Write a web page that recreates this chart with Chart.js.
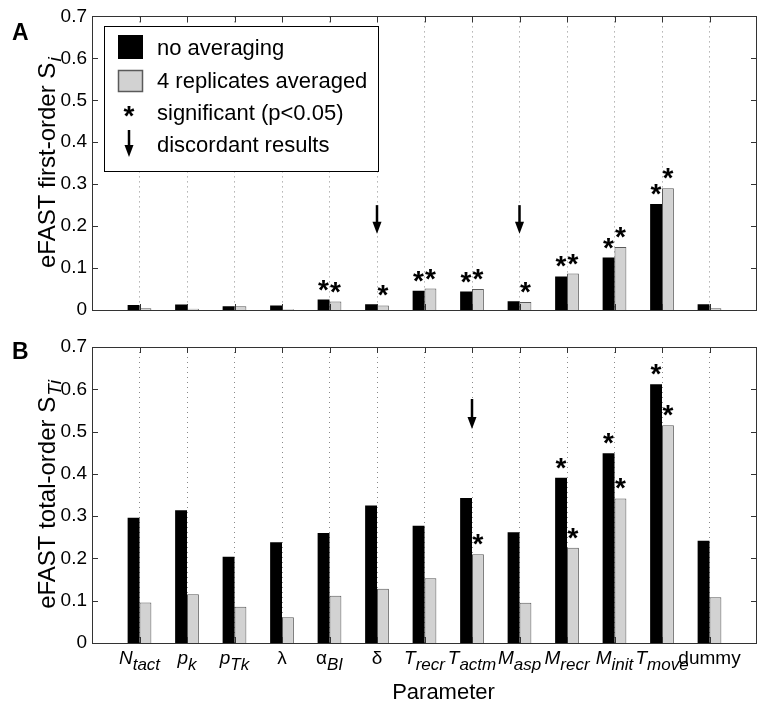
<!DOCTYPE html>
<html>
<head>
<meta charset="utf-8">
<script src="https://cdn.jsdelivr.net/npm/chart.js@4.4.1/dist/chart.umd.min.js"></script>
<style>
  html, body { margin: 0; padding: 0; background: #fff; }
  #wrap { position: relative; width: 759px; height: 706px; }
  .panel { position: absolute; left: 0; width: 759px; }
  #panelA { top: 0; height: 330px; }
  #panelB { top: 330px; height: 376px; }
</style>
</head>
<body>
<div id="wrap">
  <div class="panel" id="panelA"><canvas id="chartA" width="759" height="330"></canvas></div>
  <div class="panel" id="panelB"><canvas id="chartB" width="759" height="376"></canvas></div>
</div>
<script>
// parameters (main symbol, subscript, italic?)
const categoryMain = ['N', 'p', 'p', 'λ', 'α', 'δ', 'T', 'T', 'M', 'M', 'M', 'T', 'dummy'];
const categorySub = ['tact', 'k', 'Tk', '', 'BI', '', 'recr', 'actm', 'asp', 'recr', 'init', 'move', ''];
const categoryItalic = [true, true, true, false, false, false, true, true, true, true, true, true, false];

// panel A: first-order Si
const firstNoAvg = [0.012, 0.013, 0.009, 0.011, 0.025, 0.014, 0.046, 0.044, 0.021, 0.080, 0.125, 0.253, 0.014];
const firstAvg = [0.004, 0.003, 0.009, 0.002, 0.020, 0.011, 0.051, 0.050, 0.019, 0.087, 0.150, 0.290, 0.004];
const sigFirstNoAvg = [0, 0, 0, 0, 1, 0, 1, 1, 0, 1, 1, 1, 0];
const sigFirstAvg = [0, 0, 0, 0, 1, 1, 1, 1, 1, 1, 1, 1, 0];
const discordFirst = [5, 8];
const arrowFirst = [0.250, 0.182]; // shaft start, tip

// panel B: total-order STi
const totalNoAvg = [0.296, 0.314, 0.204, 0.238, 0.260, 0.325, 0.277, 0.343, 0.262, 0.391, 0.449, 0.612, 0.242];
const totalAvg = [0.096, 0.115, 0.086, 0.061, 0.112, 0.128, 0.153, 0.210, 0.095, 0.225, 0.342, 0.515, 0.108];
const sigTotalNoAvg = [0, 0, 0, 0, 0, 0, 0, 0, 0, 1, 1, 1, 0];
const sigTotalAvg = [0, 0, 0, 0, 0, 0, 0, 1, 0, 1, 1, 1, 0];
const discordTotal = [7];
const arrowTotal = [0.577, 0.506];

const yMax = 0.7, yStep = 0.1;

const FONT = "'Liberation Sans', Arial, Helvetica, sans-serif";
const GRAY = '#d2d2d2', GRAY_EDGE = '#5a5a5a', FRAME = '#333';
const STAR_FONT = 'bold 28px ' + FONT;
const n = categoryMain.length;

function arrow(ctx, x, y0, y1) {
  ctx.save();
  ctx.strokeStyle = '#000';
  ctx.fillStyle = '#000';
  ctx.lineWidth = 2.5;
  ctx.beginPath();
  ctx.moveTo(x, y0);
  ctx.lineTo(x, y1 - 10);
  ctx.stroke();
  ctx.beginPath();
  ctx.moveTo(x - 4.5, y1 - 12);
  ctx.lineTo(x + 4.5, y1 - 12);
  ctx.lineTo(x, y1);
  ctx.closePath();
  ctx.fill();
  ctx.restore();
}

function decor(cfg) {
  return {
    id: 'decor' + cfg.letter,
    afterDatasetsDraw(chart) {
      const { ctx, chartArea: a } = chart;
      const xs = chart.scales.x, ys = chart.scales.y;

      // frame + inner ticks
      ctx.save();
      ctx.strokeStyle = FRAME;
      ctx.lineWidth = 1;
      ctx.strokeRect(Math.round(a.left) + 0.5, Math.round(a.top) + 0.5, Math.round(a.width) - 1, Math.round(a.height));
      ctx.beginPath();
      for (let i = 1; i <= n; i++) {
        const px = Math.round(xs.getPixelForValue(i)) + 0.5;
        ctx.moveTo(px, a.top); ctx.lineTo(px, a.top + 6);
        ctx.moveTo(px, a.bottom); ctx.lineTo(px, a.bottom - 6);
      }
      ys.ticks.forEach(t => {
        const py = Math.round(ys.getPixelForValue(t.value)) + 0.5;
        ctx.moveTo(a.left, py); ctx.lineTo(a.left + 6, py);
        ctx.moveTo(a.right, py); ctx.lineTo(a.right - 6, py);
      });
      ctx.stroke();
      ctx.restore();

      // significance stars
      ctx.save();
      ctx.fillStyle = '#000';
      ctx.font = STAR_FONT;
      ctx.textAlign = 'center';
      ctx.textBaseline = 'alphabetic';
      [cfg.sigNo, cfg.sigAvg].forEach((sig, d) => {
        chart.getDatasetMeta(d).data.forEach((bar, i) => {
          if (sig[i]) ctx.fillText('*', bar.x, bar.y - 1);
        });
      });
      ctx.restore();

      // discordant arrows
      cfg.discord.forEach(i => {
        arrow(ctx, xs.getPixelForValue(i + 1), ys.getPixelForValue(cfg.arrow[0]), ys.getPixelForValue(cfg.arrow[1]));
      });
    },
    afterDraw(chart) {
      const { ctx, chartArea: a } = chart;
      const xs = chart.scales.x;

      // panel letter
      ctx.save();
      ctx.fillStyle = '#000';
      ctx.font = 'bold 23px ' + FONT;
      ctx.textAlign = 'left';
      ctx.textBaseline = 'alphabetic';
      ctx.fillText(cfg.letter, 12, a.top + cfg.letterDy);
      ctx.restore();

      // y title with subscript (rotated)
      ctx.save();
      ctx.translate(55, (a.top + a.bottom) / 2);
      ctx.rotate(-Math.PI / 2);
      ctx.fillStyle = '#000';
      ctx.textBaseline = 'alphabetic';
      ctx.font = '24px ' + FONT;
      const wMain = ctx.measureText(cfg.yTitle).width;
      ctx.font = 'italic 19px ' + FONT;
      const wSub = ctx.measureText(cfg.ySub).width;
      const x0 = -(wMain + wSub) / 2;
      ctx.font = '24px ' + FONT;
      ctx.fillText(cfg.yTitle, x0, 0);
      ctx.font = 'italic 19px ' + FONT;
      ctx.fillText(cfg.ySub, x0 + wMain + 1, 6);
      ctx.restore();

      if (cfg.legend) {
        const bx = Math.round(a.left) + 12, by = Math.round(a.top) + 10;
        ctx.save();
        ctx.fillStyle = '#fff';
        ctx.fillRect(bx, by, 274, 145);
        ctx.strokeStyle = '#000';
        ctx.lineWidth = 1;
        ctx.strokeRect(bx + 0.5, by + 0.5, 274, 145);
        ctx.fillStyle = '#000';
        ctx.fillRect(bx + 14, by + 9, 25, 24);
        ctx.fillStyle = GRAY;
        ctx.fillRect(bx + 14, by + 44, 25, 22);
        ctx.strokeStyle = GRAY_EDGE;
        ctx.lineWidth = 1.5;
        ctx.strokeRect(bx + 14.5, by + 44.5, 24, 21);
        ctx.fillStyle = '#000';
        ctx.font = STAR_FONT;
        ctx.textAlign = 'center';
        ctx.fillText('*', bx + 25, by + 99);
        arrow(ctx, bx + 25, by + 104, by + 131);
        ctx.font = '22px ' + FONT;
        ctx.textAlign = 'left';
        ctx.fillText(chart.data.datasets[0].label, bx + 53, by + 29);
        ctx.fillText(chart.data.datasets[1].label, bx + 53, by + 62);
        ctx.fillText('significant (p<0.05)', bx + 53, by + 94);
        ctx.fillText('discordant results', bx + 53, by + 126);
        ctx.restore();
      }

      if (cfg.xLabels) {
        ctx.save();
        ctx.fillStyle = '#000';
        ctx.textAlign = 'left';
        ctx.textBaseline = 'alphabetic';
        for (let i = 0; i < n; i++) {
          const main = categoryMain[i], sub = categorySub[i];
          const mFont = (categoryItalic[i] ? 'italic ' : '') + '19px ' + FONT;
          const sFont = 'italic 17px ' + FONT;
          ctx.font = mFont;
          const wm = ctx.measureText(main).width;
          ctx.font = sFont;
          const ws = sub ? ctx.measureText(sub).width : 0;
          const cx = xs.getPixelForValue(i + 1);
          const sx = cx - (wm + ws) / 2;
          ctx.font = mFont;
          ctx.fillText(main, sx, a.bottom + 21);
          if (sub) {
            ctx.font = sFont;
            ctx.fillText(sub, sx + wm, a.bottom + 27);
          }
        }
        ctx.font = '22px ' + FONT;
        ctx.textAlign = 'center';
        ctx.fillText('Parameter', (a.left + a.right) / 2 + 19, a.bottom + 56);
        ctx.restore();
      }
    }
  };
}

function makeChart(id, noAvg, avg, padTop, bottomSpace, cfg) {
  return new Chart(document.getElementById(id), {
    type: 'bar',
    data: {
      datasets: [
        {
          label: 'no averaging',
          data: noAvg.map((v, i) => ({ x: i + 1, y: v })),
          backgroundColor: '#000',
          borderWidth: 0
        },
        {
          label: '4 replicates averaged',
          data: avg.map((v, i) => ({ x: i + 1, y: v })),
          backgroundColor: GRAY,
          borderColor: GRAY_EDGE,
          borderWidth: 1
        }
      ]
    },
    options: {
      responsive: false,
      animation: false,
      devicePixelRatio: 1,
      layout: { padding: { top: padTop, right: 2, left: 0, bottom: 0 } },
      datasets: { bar: { barPercentage: 1, categoryPercentage: 0.5 } },
      scales: {
        x: {
          type: 'linear',
          min: 0,
          max: n + 1,
          offset: false,
          ticks: { display: false, stepSize: 1 },
          grid: {
            offset: false,
            drawTicks: false,
            lineWidth: 1,
            color: c => (c.tick && c.tick.value >= 1 && c.tick.value <= n) ? '#8a8a8a' : 'rgba(0,0,0,0)'
          },
          border: { display: false, dash: [1, 4] },
          afterFit(scale) { scale.height = bottomSpace; }
        },
        y: {
          min: 0,
          max: yMax,
          ticks: {
            stepSize: yStep,
            color: '#000',
            padding: 5,
            font: { family: FONT, size: 19 },
            callback: v => v === 0 ? '0' : v.toFixed(1)
          },
          grid: { display: false, drawTicks: false },
          border: { display: false },
          afterFit(scale) { scale.width = 92; }
        }
      },
      plugins: {
        legend: { display: false },
        tooltip: { enabled: false }
      }
    },
    plugins: [decor(cfg)]
  });
}

makeChart('chartA', firstNoAvg, firstAvg, 14, 20, {
  letter: 'A', letterDy: 24,
  sigNo: sigFirstNoAvg, sigAvg: sigFirstAvg,
  discord: discordFirst, arrow: arrowFirst,
  yTitle: 'eFAST first-order S', ySub: 'i',
  legend: true, xLabels: false
});

makeChart('chartB', totalNoAvg, totalAvg, 17, 63, {
  letter: 'B', letterDy: 12,
  sigNo: sigTotalNoAvg, sigAvg: sigTotalAvg,
  discord: discordTotal, arrow: arrowTotal,
  yTitle: 'eFAST total-order S', ySub: 'Ti',
  legend: false, xLabels: true
});
</script>
</body>
</html>
